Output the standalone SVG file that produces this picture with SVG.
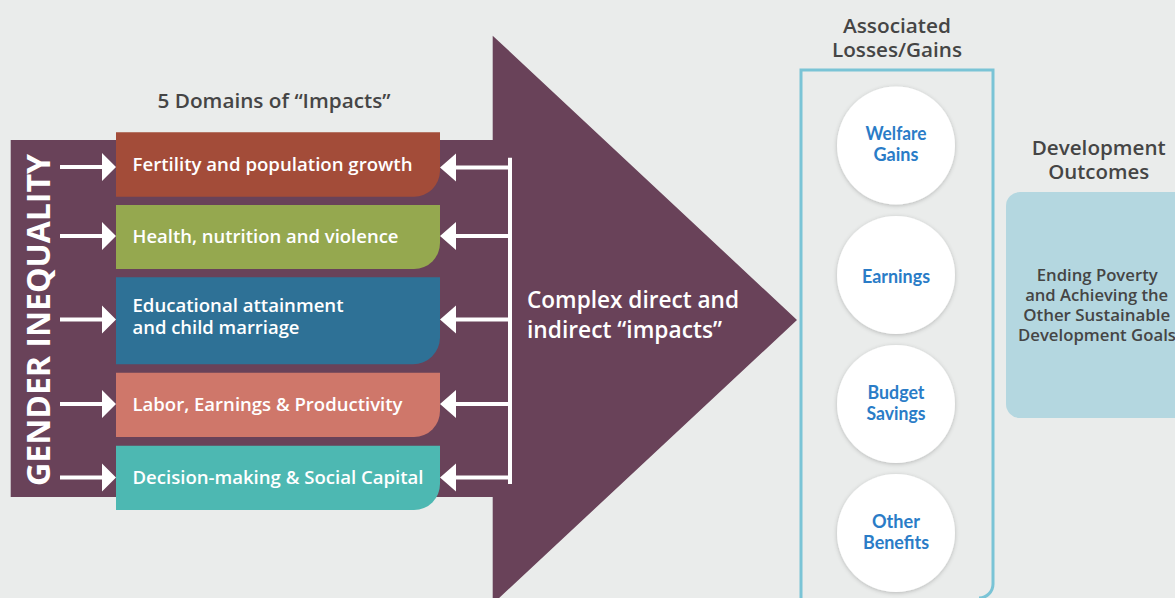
<svg xmlns="http://www.w3.org/2000/svg" width="1175" height="598" viewBox="0 0 1175 598">
<defs>
<style>
.hdr{font-family:"Open Sans","Liberation Sans",sans-serif;font-weight:600;fill:#454545;text-anchor:middle}
.box{font-family:"Open Sans","Liberation Sans",sans-serif;font-weight:600;fill:#ffffff;font-size:18.5px}
.big{font-family:"Open Sans","Liberation Sans",sans-serif;font-weight:600;fill:#ffffff;font-size:23px}
.circ{font-family:Lato,"Liberation Sans",sans-serif;font-weight:700;fill:#2A7CC7;font-size:18px;text-anchor:middle}
.ln{stroke:#ffffff;stroke-width:4;fill:none}
.hd{fill:#ffffff}
.bubble{fill:#ffffff;filter:url(#sh)}
</style>
<filter id="sh" x="-20%" y="-20%" width="140%" height="140%">
<feDropShadow dx="0" dy="1" stdDeviation="2" flood-color="#000" flood-opacity="0.22"/>
</filter>
</defs>
<rect width="1175" height="598" fill="#EAECEB"/>

<g id="big-arrow">
<path d="M10.7,140 H492.7 V35.7 L797,320 L492.7,604 V497 H10.7 Z" fill="#694259"/>
<text x="37" y="320" transform="rotate(-90 37 320)" text-anchor="middle" dominant-baseline="central" font-family="'Open Sans','Liberation Sans',sans-serif" font-weight="700" font-size="33" fill="#ffffff" textLength="332" lengthAdjust="spacingAndGlyphs">GENDER INEQUALITY</text>
<text class="big" x="527" y="308" textLength="212" lengthAdjust="spacingAndGlyphs">Complex direct and</text>
<text class="big" x="527" y="338" textLength="195" lengthAdjust="spacingAndGlyphs">indirect “impacts”</text>
</g>

<text class="hdr" x="274" y="108" font-size="19.5" textLength="233" lengthAdjust="spacingAndGlyphs">5 Domains of “Impacts”</text>

<g id="domain-1">
<path d="M116,132.3 H440 V171 A26,26 0 0 1 414,196.7 H116 Z" fill="#A34C39"/>
<text class="box" x="132.5" y="170.5" textLength="280" lengthAdjust="spacingAndGlyphs">Fertility and population growth</text>
</g>
<g id="domain-2">
<path d="M116,205 H440 V243 A26,26 0 0 1 414,269 H116 Z" fill="#95A84F"/>
<text class="box" x="132.5" y="242.5" textLength="266" lengthAdjust="spacingAndGlyphs">Health, nutrition and violence</text>
</g>
<g id="domain-3">
<path d="M116,277.3 H440 V337.5 A27,27 0 0 1 413,364.3 H116 Z" fill="#2E7196"/>
<text class="box" x="132.5" y="312" textLength="211" lengthAdjust="spacingAndGlyphs" style="font-size:18px">Educational attainment</text>
<text class="box" x="132.5" y="334" textLength="167" lengthAdjust="spacingAndGlyphs" style="font-size:18px">and child marriage</text>
</g>
<g id="domain-4">
<path d="M116,372.7 H440 V411 A26,26 0 0 1 414,437 H116 Z" fill="#CF776A"/>
<text class="box" x="132.5" y="410.5" textLength="270" lengthAdjust="spacingAndGlyphs">Labor, Earnings &amp; Productivity</text>
</g>
<g id="domain-5">
<path d="M116,445.7 H440 V484 A26,26 0 0 1 414,510 H116 Z" fill="#4DB8B2"/>
<text class="box" x="132.5" y="483.5" textLength="291" lengthAdjust="spacingAndGlyphs">Decision-making &amp; Social Capital</text>
</g>

<g id="connectors">
<path class="ln" d="M60,167 H104 M60,236 H104 M60,319.5 H104 M60,404 H104 M60,477.5 H104"/>
<path class="hd" d="M102,153 L116,167 L102,181 Z M102,222 L116,236 L102,250 Z M102,305.5 L116,319.5 L102,333.5 Z M102,390 L116,404 L102,418 Z M102,463.5 L116,477.5 L102,491.5 Z"/>
<path class="ln" d="M510,157.7 V484 M510,167.5 H454 M510,236 H454 M510,319.5 H454 M510,404 H454 M510,477.5 H454"/>
<path class="hd" d="M456,153.5 L440,167.5 L456,181.5 Z M456,222 L440,236 L456,250 Z M456,305.5 L440,319.5 L456,333.5 Z M456,390 L440,404 L456,418 Z M456,463.5 L440,477.5 L456,491.5 Z"/>
</g>

<text class="hdr" x="897" y="33" font-size="19" textLength="108" lengthAdjust="spacingAndGlyphs">Associated</text>
<text class="hdr" x="897" y="57" font-size="19" textLength="130" lengthAdjust="spacingAndGlyphs">Losses/Gains</text>

<g id="losses-gains">
<path d="M801,600 V70 H993 V584 A14,14 0 0 1 979,598" fill="none" stroke="#7AC4D6" stroke-width="3"/>
</g>
<g id="welfare-gains">
<circle class="bubble" cx="896" cy="145.5" r="59"/>
<text class="circ" x="896" y="140" textLength="61" lengthAdjust="spacingAndGlyphs">Welfare</text>
<text class="circ" x="896" y="161" textLength="45" lengthAdjust="spacingAndGlyphs">Gains</text>
</g>
<g id="earnings">
<circle class="bubble" cx="896" cy="275" r="59"/>
<text class="circ" x="896" y="283" textLength="68" lengthAdjust="spacingAndGlyphs">Earnings</text>
</g>
<g id="budget-savings">
<circle class="bubble" cx="896" cy="404" r="59"/>
<text class="circ" x="896" y="399" textLength="57" lengthAdjust="spacingAndGlyphs">Budget</text>
<text class="circ" x="896" y="420" textLength="59" lengthAdjust="spacingAndGlyphs">Savings</text>
</g>
<g id="other-benefits">
<circle class="bubble" cx="896" cy="533" r="59"/>
<text class="circ" x="896" y="528" textLength="48" lengthAdjust="spacingAndGlyphs">Other</text>
<text class="circ" x="896" y="549" textLength="66" lengthAdjust="spacingAndGlyphs">Benefits</text>
</g>

<text class="hdr" x="1098.7" y="155" font-size="19" textLength="134" lengthAdjust="spacingAndGlyphs">Development</text>
<text class="hdr" x="1098.7" y="179" font-size="19" textLength="101" lengthAdjust="spacingAndGlyphs">Outcomes</text>

<g id="development-outcomes">
<rect x="1006" y="192" width="190" height="226" rx="14" fill="#B4D7E0"/>
<text class="hdr" x="1097.2" y="281" font-size="15.5" textLength="121" lengthAdjust="spacingAndGlyphs">Ending Poverty</text>
<text class="hdr" x="1096.7" y="301" font-size="15.5" textLength="143" lengthAdjust="spacingAndGlyphs">and Achieving the</text>
<text class="hdr" x="1096.7" y="321" font-size="15.5" textLength="147" lengthAdjust="spacingAndGlyphs">Other Sustainable</text>
<text class="hdr" x="1097" y="341" font-size="15.5" textLength="158" lengthAdjust="spacingAndGlyphs">Development Goals</text>
</g>
</svg>
